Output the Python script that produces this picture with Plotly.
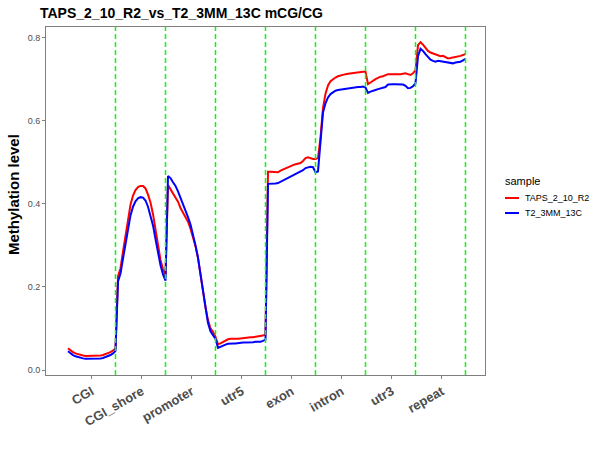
import plotly.graph_objects as go
import numpy as np

regions = ["CGI", "CGI_shore", "promoter", "utr5", "exon", "intron", "utr3", "repeat"]
samples = ["TAPS_2_10_R2", "T2_3MM_13C"]
colors = ["#FF0000", "#0000FF"]

red_cgi = [0.052, 0.047, 0.043, 0.040, 0.038, 0.036, 0.035, 0.034, 0.034, 0.034,
           0.034, 0.034, 0.034, 0.035, 0.036, 0.038, 0.040, 0.043, 0.047, 0.052]
red_shore = [0.225, 0.245, 0.285, 0.325, 0.365, 0.398, 0.420, 0.433, 0.440, 0.443,
             0.443, 0.437, 0.422, 0.403, 0.375, 0.340, 0.300, 0.265, 0.243, 0.228]
red_promoter = [0.445, 0.435, 0.425, 0.418, 0.405, 0.390, 0.378, 0.368, 0.357, 0.340,
                0.320, 0.298, 0.270, 0.235, 0.190, 0.150, 0.120, 0.100, 0.092, 0.080]
red_utr5 = [0.062, 0.064, 0.068, 0.072, 0.074, 0.075, 0.075, 0.074, 0.075, 0.076,
            0.077, 0.077, 0.078, 0.079, 0.079, 0.080, 0.080, 0.081, 0.083, 0.086]
red_exon = [0.477, 0.477, 0.477, 0.476, 0.476, 0.480, 0.483, 0.486, 0.488, 0.491,
            0.493, 0.495, 0.497, 0.498, 0.503, 0.510, 0.512, 0.510, 0.508, 0.508]
red_intron = [0.510, 0.560, 0.630, 0.665, 0.685, 0.695, 0.700, 0.704, 0.707, 0.709,
              0.711, 0.712, 0.713, 0.714, 0.715, 0.716, 0.717, 0.717, 0.718, 0.718]
red_utr3 = [0.688, 0.692, 0.697, 0.700, 0.703, 0.706, 0.707, 0.710, 0.712, 0.712,
            0.712, 0.711, 0.712, 0.712, 0.713, 0.714, 0.712, 0.710, 0.714, 0.722]
red_repeat = [0.782, 0.789, 0.783, 0.774, 0.768, 0.764, 0.762, 0.759, 0.757, 0.755,
              0.756, 0.753, 0.750, 0.751, 0.752, 0.753, 0.754, 0.756, 0.758, 0.761]

blue_cgi = [0.045, 0.040, 0.036, 0.033, 0.031, 0.029, 0.028, 0.027, 0.027, 0.027,
            0.027, 0.027, 0.027, 0.028, 0.029, 0.031, 0.033, 0.036, 0.040, 0.046]
blue_shore = [0.213, 0.232, 0.268, 0.305, 0.342, 0.372, 0.393, 0.406, 0.413, 0.416,
              0.415, 0.408, 0.393, 0.373, 0.348, 0.315, 0.280, 0.252, 0.230, 0.215]
blue_promoter = [0.467, 0.462, 0.452, 0.443, 0.430, 0.415, 0.398, 0.383, 0.368, 0.350,
                 0.327, 0.300, 0.270, 0.232, 0.187, 0.145, 0.113, 0.093, 0.085, 0.075]
blue_utr5 = [0.053, 0.056, 0.059, 0.061, 0.063, 0.064, 0.064, 0.064, 0.065, 0.065,
             0.066, 0.066, 0.066, 0.067, 0.067, 0.068, 0.068, 0.068, 0.070, 0.073]
blue_exon = [0.448, 0.448, 0.449, 0.449, 0.450, 0.453, 0.457, 0.460, 0.462, 0.465,
             0.468, 0.471, 0.474, 0.477, 0.481, 0.486, 0.488, 0.489, 0.488, 0.476]
blue_intron = [0.478, 0.560, 0.620, 0.642, 0.656, 0.664, 0.669, 0.672, 0.674, 0.675,
               0.676, 0.677, 0.678, 0.678, 0.679, 0.680, 0.681, 0.681, 0.682, 0.680]
blue_utr3 = [0.667, 0.670, 0.673, 0.674, 0.676, 0.678, 0.679, 0.681, 0.687, 0.688,
             0.688, 0.688, 0.688, 0.688, 0.687, 0.684, 0.678, 0.679, 0.683, 0.690]
blue_repeat = [0.755, 0.773, 0.768, 0.760, 0.753, 0.747, 0.744, 0.742, 0.744, 0.743,
               0.741, 0.740, 0.739, 0.738, 0.738, 0.740, 0.741, 0.742, 0.745, 0.749]

red_all = (red_cgi + red_shore + red_promoter + red_utr5 + red_exon + red_intron
           + red_utr3 + red_repeat)
blue_all = (blue_cgi + blue_shore + blue_promoter + blue_utr5 + blue_exon + blue_intron
            + blue_utr3 + blue_repeat)
series = [red_all, blue_all]

n_bins = 20
x = np.arange(1, n_bins * len(regions) + 1)
tick_pos = [n_bins * i + (n_bins + 1) / 2 for i in range(len(regions))]
bounds = [n_bins * (i + 1) for i in range(len(regions))]

Y_RANGE = [-0.012, 0.8255]

fig = go.Figure()
for name, col, ys in zip(samples, colors, series):
    fig.add_trace(go.Scatter(x=x, y=ys, mode="lines", name=name,
                             line=dict(color=col, width=2), showlegend=False,
                             hoverinfo="skip"))

# vertical dashed boundaries between regions
vx, vy = [], []
for b in bounds:
    vx += [b, b, None]
    vy += [Y_RANGE[0], Y_RANGE[1], None]
fig.add_trace(go.Scatter(x=vx, y=vy, mode="lines", showlegend=False, hoverinfo="skip",
                         line=dict(color="rgb(0,255,0)", width=1.5, dash="5px,3px")))

# legend (ggplot style)
L, R, T, B = 46, 485, 27, 375
def px(v):
    return (v - L) / (R - L)
def py(v):
    return (B - v) / (B - T)

fig.add_annotation(text="sample", xref="paper", yref="paper", x=px(503), y=py(181),
                   xanchor="left", yanchor="middle", showarrow=False,
                   font=dict(family="Liberation Sans, Arial", size=11, color="black"))
for i, (name, col) in enumerate(zip(samples, colors)):
    yy = 198 + 15 * i
    fig.add_shape(type="line", xref="paper", yref="paper", x0=px(505), x1=px(519),
                  y0=py(yy), y1=py(yy), line=dict(color=col, width=2))
    fig.add_annotation(text=name, xref="paper", yref="paper", x=px(523), y=py(yy),
                       xanchor="left", yanchor="middle", showarrow=False,
                       font=dict(family="Liberation Sans, Arial", size=9, color="black"))

fig.add_annotation(text="Methylation level", xref="paper", yref="paper",
                   x=px(13), y=py(195), textangle=-90, showarrow=False,
                   xanchor="center", yanchor="middle",
                   font=dict(family="Liberation Sans, Arial", size=15, color="black",
                             weight="bold"))

fig.update_layout(
    width=600, height=450,
    margin=dict(l=L, r=600 - R, t=T, b=450 - B),
    paper_bgcolor="white", plot_bgcolor="white",
    title=dict(text="TAPS_2_10_R2_vs_T2_3MM_13C mCG/CG", xref="container", x=40 / 600,
               xanchor="left", yref="container", y=1 - 13 / 450, yanchor="middle",
               font=dict(family="Liberation Sans, Arial", size=14, color="black",
                         weight="bold")),
    xaxis=dict(range=[-7.8, 167.8], tickvals=tick_pos, ticktext=regions, tickangle=-30,
               showgrid=False, zeroline=False, showline=True, mirror=True,
               linecolor="#7F7F7F", linewidth=1, ticks="outside", ticklen=3,
               tickcolor="#7F7F7F",
               tickfont=dict(family="Liberation Sans, Arial", size=13, color="#4D4D4D",
                             weight="bold")),
    yaxis=dict(range=Y_RANGE, tickvals=[0, 0.2, 0.4, 0.6, 0.8],
               ticktext=["0.0", "0.2", "0.4", "0.6", "0.8"],
               showgrid=False, zeroline=False, showline=True, mirror=True,
               linecolor="#7F7F7F", linewidth=1, ticks="outside", ticklen=3,
               tickcolor="#7F7F7F",
               tickfont=dict(family="Liberation Sans, Arial", size=9, color="#4D4D4D")),
)

fig.write_html("out.html")
